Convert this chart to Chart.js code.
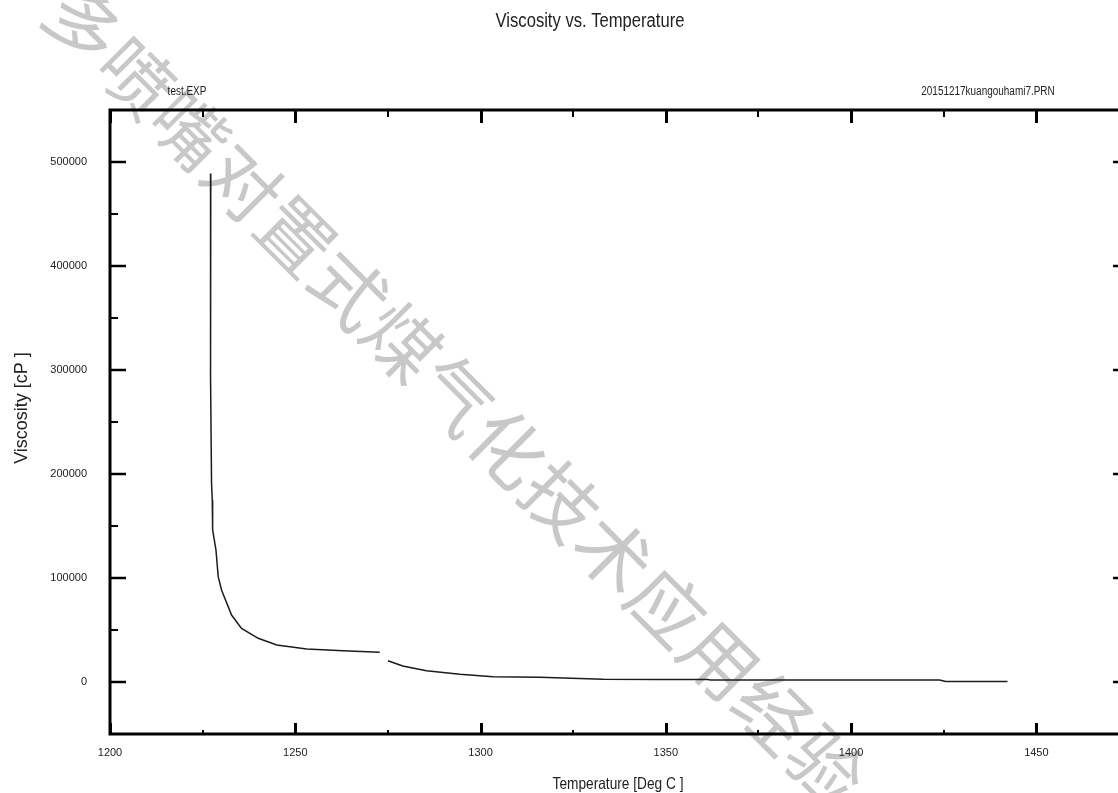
<!DOCTYPE html>
<html><head><meta charset="utf-8">
<script src="https://cdn.jsdelivr.net/npm/chart.js@4.4.1/dist/chart.umd.min.js"></script>
<style>
html,body{margin:0;padding:0;background:#fff;overflow:hidden;width:1118px;height:793px}
#wrap{position:absolute;left:0;top:0;width:1150px;height:793px}
</style>
</head><body><div id="wrap"><canvas id="c"></canvas></div>
<script>
// ---- data ----
const seg1Temp = [1227.2, 1227.2, 1227.0, 1227.2, 1227.4, 1227.6, 1227.7, 1228.6, 1229.2, 1230.1, 1232.8, 1235.5, 1240.0, 1245.0, 1253.1, 1262.9, 1272.8];
const seg1Visc = [489000, 317000, 306700, 294200, 191300, 175000, 146200, 126900, 101300, 88500, 64400, 51600, 42000, 35600, 31700, 30100, 28600];
const seg2Temp = [1275.0, 1279.0, 1285.4, 1294.4, 1303.4, 1316.0, 1333.1, 1348.4, 1361.4, 1362.0, 1423.9, 1425.5, 1442.2];
const seg2Visc = [20500, 15400, 10900, 7400, 5100, 4500, 2600, 2400, 2400, 1900, 1900, 400, 400];

const xTickLabels = [1200, 1250, 1300, 1350, 1400, 1450];
const xMinorTicks = [1225, 1275, 1325, 1375, 1425];
const yTickLabels = [0, 100000, 200000, 300000, 400000, 500000];
const yMinorTicks = [50000, 150000, 250000, 350000, 450000];
const xRange = [1200, 1475];
const yRange = [-50000, 550000];

const titleText = 'Viscosity vs. Temperature';
const leftNote = 'test.EXP';
const rightNote = '20151217kuangouhami7.PRN';
const xTitle = 'Temperature [Deg C ]';
const yTitle = 'Viscosity [cP ]';
const watermark = '多喷嘴对置式煤气化技术应用经验';

const REG = '"Liberation Sans", Arial, sans-serif';

const toPts = (xs, ys) => xs.map((x, i) => ({x: x, y: ys[i]}));

function narrowText(ctx, text, x, y, size, sx) {
  ctx.save();
  ctx.translate(x, y);
  ctx.scale(sx, 1);
  ctx.font = size + 'px ' + REG;
  ctx.fillText(text, 0, 0);
  ctx.restore();
}

const decor = {
  id: 'decor',
  beforeDraw(chart) {
    const ctx = chart.ctx;
    ctx.save();
    ctx.fillStyle = '#fff';
    ctx.fillRect(0, 0, chart.width, chart.height);
    // watermark
    ctx.fillStyle = '#c8c8c8';
    ctx.font = '74px "Noto Sans CJK SC"';
    ctx.textAlign = 'center';
    ctx.textBaseline = 'middle';
    const ang = 45 * Math.PI / 180;
    [...watermark].forEach((ch, i) => {
      ctx.save();
      ctx.translate(84 + 53 * i, 24 + 53 * i);
      ctx.rotate(ang);
      ctx.fillText(ch, 0, 0);
      ctx.restore();
    });
    ctx.restore();
  },
  afterDraw(chart) {
    const ctx = chart.ctx;
    const a = chart.chartArea;
    const xs = chart.scales.x, ys = chart.scales.y;
    ctx.save();
    ctx.strokeStyle = '#000';
    ctx.lineCap = 'butt';
    ctx.lineWidth = 3;
    ctx.strokeRect(a.left, a.top, a.right - a.left, a.bottom - a.top);
    const seg = (x1, y1, x2, y2, w) => {
      ctx.lineWidth = w; ctx.beginPath(); ctx.moveTo(x1, y1); ctx.lineTo(x2, y2); ctx.stroke();
    };
    xTickLabels.forEach(v => {
      const px = Math.round(xs.getPixelForValue(v)) + 0.5;
      seg(px, a.top, px, a.top + 13, 3);
      seg(px, a.bottom, px, a.bottom - 11, 3);
    });
    xMinorTicks.forEach(v => {
      const px = Math.round(xs.getPixelForValue(v));
      seg(px, a.top, px, a.top + 7, 2);
      seg(px, a.bottom, px, a.bottom - 4, 2);
    });
    yTickLabels.forEach(v => {
      const py = Math.round(ys.getPixelForValue(v));
      seg(a.left, py, a.left + 16, py, 2.5);
      seg(a.right, py, a.right - 16, py, 2.5);
    });
    yMinorTicks.forEach(v => {
      const py = Math.round(ys.getPixelForValue(v));
      seg(a.left, py, a.left + 8, py, 2);
      seg(a.right, py, a.right - 8, py, 2);
    });
    // texts
    ctx.fillStyle = '#222';
    ctx.textAlign = 'center';
    ctx.textBaseline = 'alphabetic';
    narrowText(ctx, titleText, 590, 27, 20, 0.83);
    narrowText(ctx, leftNote, 187, 95, 12, 0.83);
    narrowText(ctx, rightNote, 988, 95, 12, 0.83);
    narrowText(ctx, xTitle, 618, 789, 16.5, 0.83);
    ctx.save();
    ctx.translate(27, 408);
    ctx.rotate(-Math.PI / 2);
    ctx.font = '18px ' + REG;
    ctx.fillText(yTitle, 0, 0);
    ctx.restore();
    ctx.restore();
  }
};

const lineStyle = {borderColor: '#1c1c1c', borderWidth: 1.5, pointRadius: 0, tension: 0, fill: false};

new Chart(document.getElementById('c'), {
  type: 'line',
  data: {
    datasets: [
      Object.assign({label: 'seg1', data: toPts(seg1Temp, seg1Visc)}, lineStyle),
      Object.assign({label: 'seg2', data: toPts(seg2Temp, seg2Visc)}, lineStyle)
    ]
  },
  options: {
    responsive: true,
    maintainAspectRatio: false,
    animation: false,
    events: [],
    layout: {padding: {left: 0, top: 110, right: 21, bottom: 0}},
    plugins: {legend: {display: false}, title: {display: false}, tooltip: {enabled: false}},
    scales: {
      x: {
        type: 'linear', min: xRange[0], max: xRange[1],
        afterBuildTicks: s => { s.ticks = xTickLabels.map(v => ({value: v})); },
        afterFit: s => { s.height = 59; },
        grid: {display: false, drawTicks: false},
        border: {display: false},
        ticks: {font: {family: REG, size: 11}, color: '#222', padding: 12, maxRotation: 0, autoSkip: false,
                callback: v => String(v)}
      },
      y: {
        type: 'linear', min: yRange[0], max: yRange[1],
        afterBuildTicks: s => { s.ticks = yTickLabels.map(v => ({value: v})); },
        afterFit: s => { s.width = 110; },
        grid: {display: false, drawTicks: false},
        border: {display: false},
        ticks: {font: {family: REG, size: 11}, color: '#222', padding: 23, autoSkip: false,
                callback: v => String(v)}
      }
    }
  },
  plugins: [decor]
});
</script>
</body></html>
